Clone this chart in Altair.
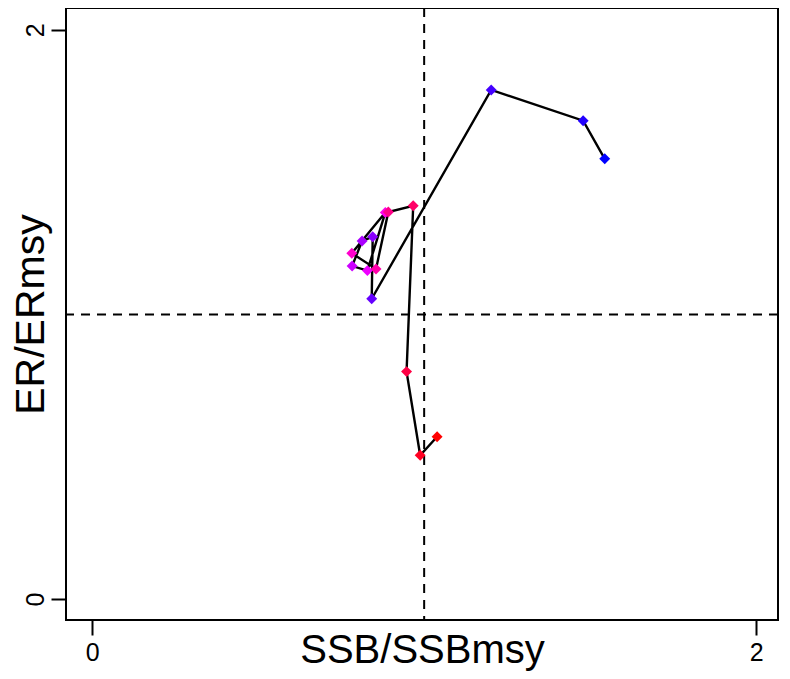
import altair as alt
import pandas as pd

# Trajectory values (SSB/SSBmsy, ER/ERmsy) in time order
ssb = [1.544, 1.479, 1.202, 0.842, 0.845, 0.813, 0.783, 0.829,
       0.883, 0.782, 0.855, 0.892, 0.967, 0.947, 0.988, 1.039]
er = [1.547, 1.681, 1.789, 1.055, 1.273, 1.258, 1.170, 1.154,
      1.358, 1.215, 1.160, 1.360, 1.382, 0.799, 0.505, 0.570]
colors = ["#0000FF", "#2200FF", "#4400FF", "#6600FF", "#8800FF", "#AA00FF",
          "#CC00FF", "#EE00FF", "#FF00EE", "#FF00CC", "#FF00AA", "#FF0088",
          "#FF0066", "#FF0044", "#FF0022", "#FF0000"]
ref_x = [1.0]
ref_y = [1.0]
tick_values = [0, 2]

df = pd.DataFrame({"idx": list(range(len(ssb))), "ssb": ssb, "er": er, "col": colors})
dfx = pd.DataFrame({"v": ref_x})
dfy = pd.DataFrame({"v": ref_y})

FONT = "Liberation Sans"
xscale = alt.Scale(domain=[-0.079, 2.066], nice=False, zero=False)
yscale = alt.Scale(domain=[-0.074, 2.077], nice=False, zero=False)

xaxis = alt.Axis(values=tick_values, format=".0f", title="SSB/SSBmsy",
                 titleY=42, titleBaseline="alphabetic", titleFontSize=40,
                 labelPadding=5, labelFontSize=25)
yaxis = alt.Axis(values=tick_values, format=".0f", title="ER/ERmsy",
                 labelAngle=270, labelAlign="center", labelBaseline="alphabetic",
                 labelPadding=8, labelFontSize=25,
                 titleX=-23, titleAngle=270, titleBaseline="alphabetic",
                 titleFontSize=41)

vrule = alt.Chart(dfx).mark_rule(color="black", strokeWidth=2, strokeDash=[9, 7]).encode(
    x=alt.X("v:Q", scale=xscale, axis=xaxis))
hrule = alt.Chart(dfy).mark_rule(color="black", strokeWidth=2, strokeDash=[9, 7]).encode(
    y=alt.Y("v:Q", scale=yscale, axis=yaxis))

line = alt.Chart(df).mark_line(color="black", strokeWidth=2.4).encode(
    x=alt.X("ssb:Q", scale=xscale, axis=xaxis),
    y=alt.Y("er:Q", scale=yscale, axis=yaxis),
    order="idx:Q")

pts = alt.Chart(df).mark_point(shape="diamond", filled=True, size=120, opacity=1,
                               strokeWidth=0).encode(
    x=alt.X("ssb:Q", scale=xscale, axis=xaxis),
    y=alt.Y("er:Q", scale=yscale, axis=yaxis),
    color=alt.Color("col:N", scale=None))

chart = alt.layer(vrule, hrule, line, pts).properties(
    width=712, height=612,
    padding={"left": 58, "top": 0, "right": 2, "bottom": 51},
    autosize=alt.AutoSizeParams(type="none"),
).configure_view(stroke="black", strokeWidth=2).configure_axis(
    domain=False, grid=False, tickColor="black", tickWidth=2, tickSize=15,
    labelColor="black", titleColor="black", labelFont=FONT, titleFont=FONT,
    titleFontWeight="normal",
)

chart.save("out.html", embed_options={"renderer": "svg", "actions": False})
